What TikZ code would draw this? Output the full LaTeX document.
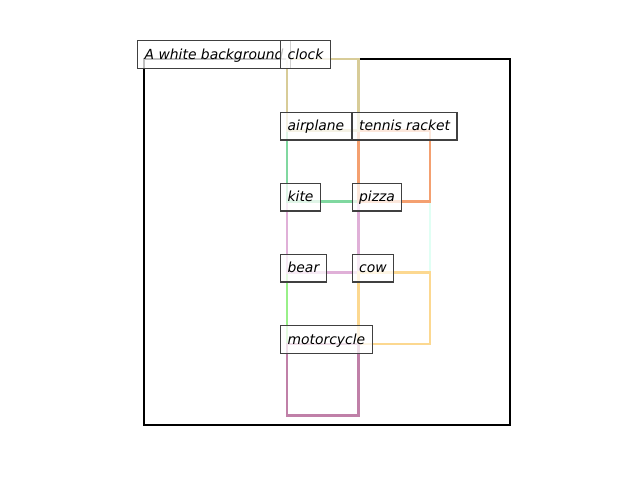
\documentclass[tikz,border=0pt]{standalone}
\usepackage{fontspec}
\setmainfont{DejaVu Sans}
\definecolor{cclock}{HTML}{D8CC98}
\definecolor{cairplane}{HTML}{80D8A0}
\definecolor{ctennis}{HTML}{F4A070}
\definecolor{ckite}{HTML}{E0B0D8}
\definecolor{cpizza}{HTML}{E0FFF4}
\definecolor{cbear}{HTML}{98F088}
\definecolor{ccow}{HTML}{FCD890}
\definecolor{cmoto}{HTML}{C080A8}
\definecolor{cedge}{HTML}{404040}
\tikzset{
  bbox/.style={line width=1.6pt, line join=miter},
  lbl/.style={anchor=base west, xshift=-5pt, inner sep=5pt, text height=8.2pt, text depth=1.8pt,
    draw=cedge, fill=white, fill opacity=0.75, text opacity=1,
    line width=0.9pt, font=\itshape\fontsize{10pt}{12pt}\selectfont}
}
\begin{document}
\begin{tikzpicture}[x=0.72pt,y=-0.72pt]
\useasboundingbox (0,0) rectangle (640,480);
% boxes
\draw[bbox, black] (144,59) rectangle (510,425);
\draw[bbox, cpizza] (358.5,201.5) rectangle (430,272.5);
\draw[bbox, cbear] (287,272.5) rectangle (358.5,344);
\draw[bbox, ckite] (287,201.5) rectangle (358.5,272.5);
\draw[bbox, cairplane] (287,130.5) rectangle (358.5,201.5);
\draw[bbox, ctennis] (358.5,130.5) rectangle (430,201.5);
\draw[bbox, ccow] (358.5,272.5) rectangle (430,344);
\draw[bbox, cmoto] (287,344) rectangle (358.5,415.5);
\draw[bbox, cclock] (287,59) rectangle (358.5,130.5);
% labels
\node[lbl] (bg) at (144,59) {A white background};
\node[lbl] (clock) at (287,59) {clock};
\node[lbl] (airplane) at (287,130.5) {airplane};
\node[lbl] (tennis) at (358.5,130.5) {tennis racket};
\node[lbl] (kite) at (287,201.5) {kite};
\node[lbl] (pizza) at (358.5,201.5) {pizza};
\node[lbl] (bear) at (287,272.5) {bear};
\node[lbl] (cow) at (358.5,272.5) {cow};
\node[lbl] (moto) at (287,344) {motorcycle};
\end{tikzpicture}
\end{document}
